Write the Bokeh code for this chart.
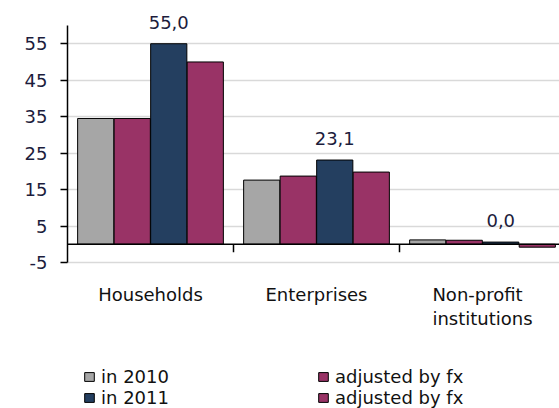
from bokeh.plotting import figure
from bokeh.models import (ColumnDataSource, FixedTicker, Span, LabelSet, Legend,
                          LegendItem, Range1d)
from bokeh.core.properties import value
from bokeh.embed import file_html
from bokeh.resources import INLINE

categories = ["Households", "Enterprises", "Non-profit\ninstitutions"]
series_names = ["in 2010", "adjusted by fx", "in 2011", "adjusted by fx"]
in_2010 = [34.5, 17.6, 1.2]
adj_2010 = [34.5, 18.7, 1.1]
in_2011 = [55.0, 23.1, 0.6]
adj_2011 = [50.0, 19.8, -0.8]
labels_2011 = ["55,0", "23,1", "0,0"]
y_ticks = [-5, 5, 15, 25, 35, 45, 55]
y_axis_top = 60

colors = ["#A6A6A6", "#993366", "#243F60", "#993366"]
offsets = [-0.33, -0.11, 0.11, 0.33]
bar_w = 0.218
FONT = "DejaVu Sans"
TXT = "#1c1c3c"

centers = [i + 0.5 for i in range(len(categories))]

PX_PER_UNIT = 3.646
p = figure(width=559, height=408, output_backend="svg", toolbar_location=None,
           x_range=Range1d(0, 492 / 166),
           y_range=Range1d(y_ticks[0] - 146 / PX_PER_UNIT, y_axis_top + 25 / PX_PER_UNIT),
           min_border_left=67, min_border_right=0, min_border_top=0,
           min_border_bottom=0)
p.outline_line_color = None
p.background_fill_color = "white"
p.xaxis.visible = False

renderers = []
for vals, col, off in zip([in_2010, adj_2010, in_2011, adj_2011], colors, offsets):
    src = ColumnDataSource(dict(x=[c + off for c in centers], top=vals))
    r = p.vbar(x="x", top="top", bottom=0, width=bar_w, source=src,
               fill_color=col, line_color="black", line_width=1)
    renderers.append(r)

# zero line
p.add_layout(Span(location=0, dimension="width", line_color="black", line_width=1.5))
# category separator ticks on the zero line
bounds = list(range(1, len(categories)))
p.segment(x0=bounds, x1=bounds, y0=[0] * len(bounds), y1=[-2.2] * len(bounds),
          line_color="black", line_width=1.5)

# value labels for 2011
lsrc = ColumnDataSource(dict(x=[c + offsets[2] for c in centers], y=in_2011, t=labels_2011))
p.add_layout(LabelSet(x="x", y="y", text="t", source=lsrc, y_offset=15,
                      text_align="center", text_baseline="alphabetic",
                      text_font=value(FONT), text_font_size="18px", text_color=TXT))

# category labels below the plot area
csrc = ColumnDataSource(dict(x=centers, y=[y_ticks[0]] * len(centers), t=categories))
p.add_layout(LabelSet(x="x", y="y", text="t", source=csrc, y_offset=-22,
                      text_align="center", text_baseline="top",
                      text_font=value(FONT), text_font_size="18px",
                      text_color="#111111", text_line_height=1.1))

# y axis
p.yaxis.ticker = FixedTicker(ticks=y_ticks)
p.yaxis.major_label_overrides = {t: str(t) for t in y_ticks}
p.yaxis.bounds = (y_ticks[0], y_axis_top)
p.yaxis.axis_line_color = "black"
p.yaxis.axis_line_width = 1.5
p.yaxis.major_tick_line_color = "black"
p.yaxis.major_tick_line_width = 1.5
p.yaxis.major_tick_out = 7
p.yaxis.major_tick_in = 0
p.yaxis.minor_tick_line_color = None
p.yaxis.major_label_standoff = 13
p.yaxis.major_label_text_font = FONT
p.yaxis.major_label_text_font_size = "18px"
p.yaxis.major_label_text_color = TXT

p.xgrid.grid_line_color = None
p.ygrid.ticker = FixedTicker(ticks=y_ticks)
p.ygrid.grid_line_color = "#D9D9D9"
p.ygrid.grid_line_width = 1.5

items = [LegendItem(label=series_names[0], renderers=[renderers[0]]),
         LegendItem(label=series_names[2], renderers=[renderers[2]]),
         LegendItem(label=series_names[1], renderers=[renderers[1]]),
         LegendItem(label=series_names[3], renderers=[renderers[3]])]
legend = Legend(items=items, location=(16, 0), orientation="vertical", nrows=2,
                padding=0, margin=0, spacing=0, border_line_color=None,
                background_fill_alpha=0, glyph_width=12, glyph_height=11,
                label_standoff=6, label_width=216, label_height=21,
                label_text_font=FONT, label_text_font_size="18px",
                label_text_color="#111111")
p.add_layout(legend, "center")

open("out.html", "w").write(file_html(p, INLINE))
